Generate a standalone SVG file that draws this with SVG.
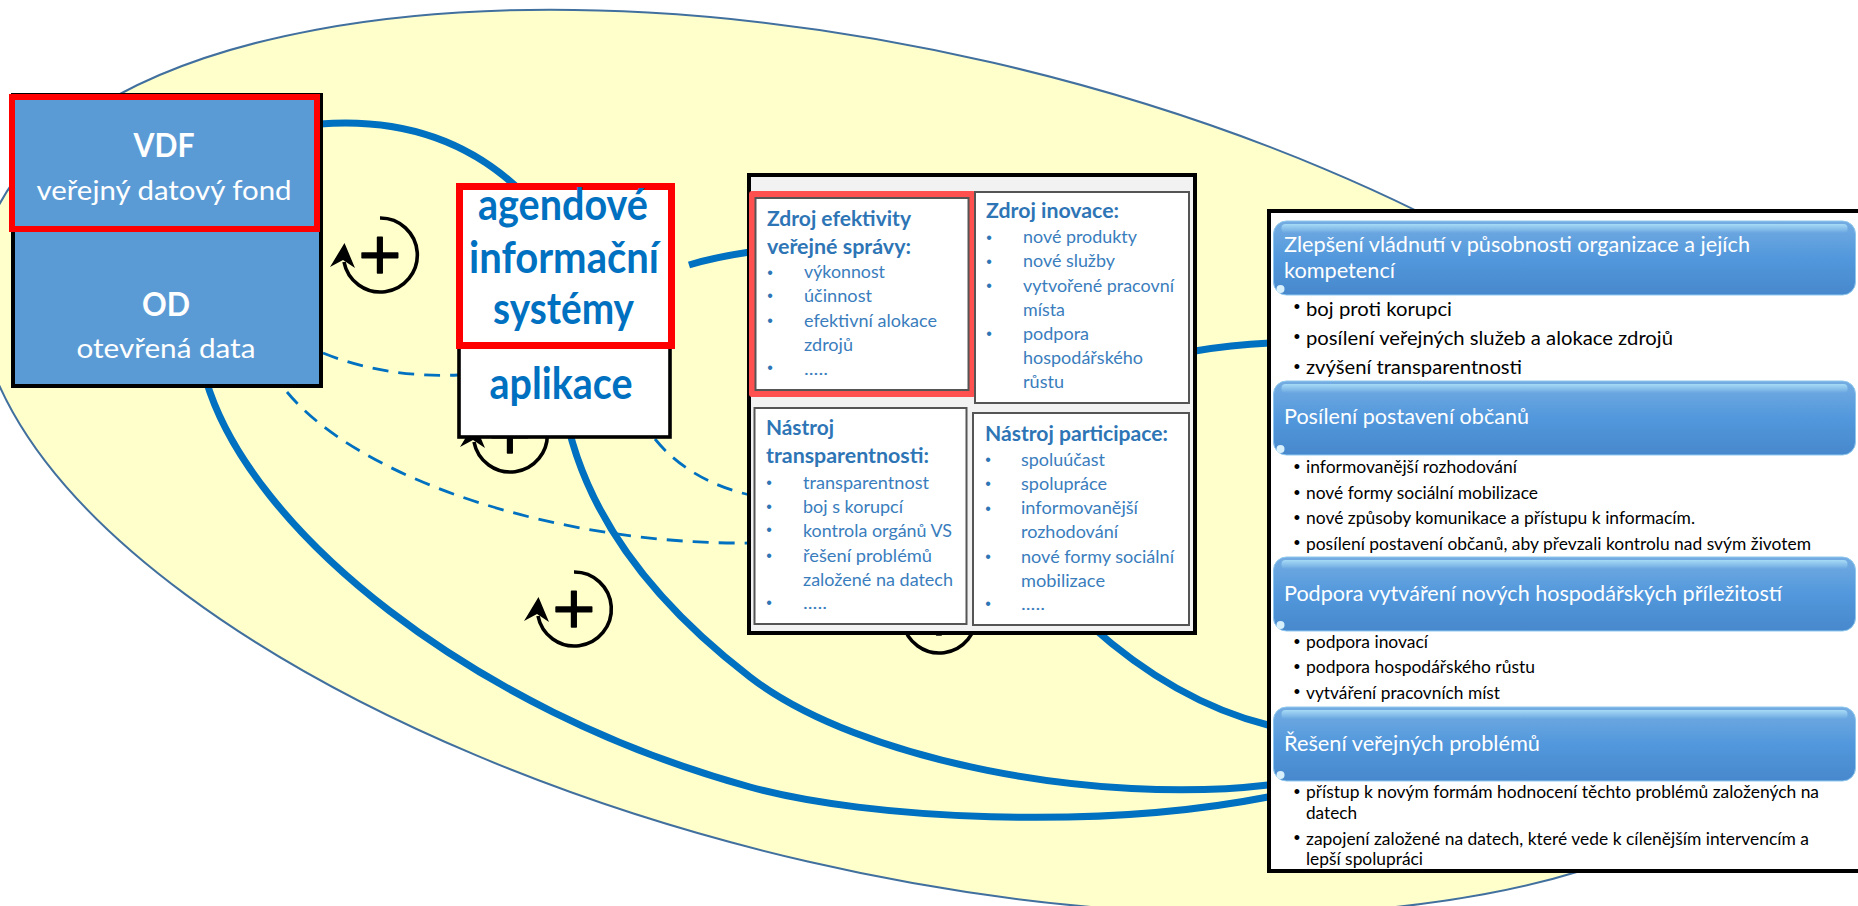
<svg xmlns="http://www.w3.org/2000/svg" xmlns:xlink="http://www.w3.org/1999/xlink" width="1858" height="906" viewBox="0 0 1858 906">
<style>
text{font-family:"Lato","Carlito","Liberation Sans",sans-serif}
.thick{fill:none;stroke:#0070C0;stroke-width:7}
.dash{fill:none;stroke:#0070C0;stroke-width:2.8;stroke-dasharray:16 10}
.lt{fill:#fff;text-anchor:middle}
.ais{fill:#0070C0;font-weight:700;font-size:43px;text-anchor:middle}
.card{fill:#fff;stroke:#555;stroke-width:2}
.h{fill:#2E75B6;font-weight:700;font-size:20.5px}
.i{fill:#3A7DBD;font-size:18px}
.b{fill:#2E75B6;font-family:"Liberation Sans",sans-serif;font-size:16px;text-anchor:middle}
.bt{fill:#fff;font-size:22px}
.k{fill:#000;font-size:19.5px}
.s{fill:#000;font-size:17.5px}
.kb{fill:#000;font-family:"Liberation Sans",sans-serif;font-size:18px;text-anchor:middle}
.plus{font-family:"DejaVu Sans",sans-serif;font-size:57px;text-anchor:middle;fill:#000;stroke:#000;stroke-width:1.5;stroke-linejoin:round}
</style>
<defs>
<linearGradient id="bar" x1="0" y1="0" x2="0" y2="1">
<stop offset="0" stop-color="#74ACE2"/><stop offset="0.5" stop-color="#5298DC"/><stop offset="1" stop-color="#4888CC"/>
</linearGradient>
<linearGradient id="gloss" x1="0" y1="0" x2="0" y2="1">
<stop offset="0" stop-color="#A6DAF6"/><stop offset="1" stop-color="#A6DAF6" stop-opacity="0"/>
</linearGradient>
<g id="loop">
<path d="M0,-37 A37,37 0 1 1 -36,7" fill="none" stroke="#000" stroke-width="3.6"/>
<polygon points="-35.5,-12 -50,12 -37,5 -25,13" fill="#000"/>
</g>
<g id="barshape">
<rect x="0" y="0" width="582" height="74" rx="13" fill="url(#bar)" stroke="#8FC8EE" stroke-width="1"/>
<rect x="8" y="3" width="566" height="9" rx="4" fill="url(#gloss)"/>
<circle cx="7" cy="68" r="4" fill="#D8F0FC"/>
</g>
</defs>

<ellipse id="background" cx="900" cy="462" rx="942" ry="410" transform="rotate(13 900 462)" fill="#FFFFCC" stroke="#41709F" stroke-width="2"/>

<g id="connectors">
<path class="thick" d="M320,124 C400,118 470,140 525,195"/>
<path class="thick" d="M689,265 Q715,257 750,252"/>
<path class="thick" d="M1195,351 Q1230,345 1270,343"/>
<path class="thick" d="M206,380 C250,530 470,710 750,787 C870,820 1100,830 1268,797"/>
<path class="thick" d="M563,400 C580,510 650,600 750,677 C860,762 1100,805 1268,785"/>
<path class="thick" d="M1090,625 C1140,670 1200,708 1268,725"/>
<path class="dash" d="M323,353 Q385,378 458,375"/>
<path class="dash" d="M287,392 C360,480 560,545 750,543"/>
<path class="dash" d="M655,439 C680,470 715,487 750,495"/>
</g>

<g id="loop-1"><use href="#loop" xlink:href="#loop" x="380" y="255"/><text class="plus" x="380" y="273">+</text></g>
<g id="loop-2"><use href="#loop" xlink:href="#loop" x="510" y="435"/><text class="plus" x="510" y="453">+</text></g>
<g id="loop-3"><use href="#loop" xlink:href="#loop" x="574" y="609"/><text class="plus" x="574" y="627">+</text></g>
<g id="loop-4"><use href="#loop" xlink:href="#loop" x="939" y="616"/><text class="plus" x="939" y="635">+</text></g>

<g id="node-od">
<rect x="13" y="95" width="308" height="291" fill="#5B9BD5" stroke="#000" stroke-width="4"/>
<text class="lt" x="166" y="316" font-size="33" font-weight="700" textLength="48" lengthAdjust="spacingAndGlyphs">OD</text>
<text class="lt" x="166" y="358" font-size="27" textLength="179" lengthAdjust="spacingAndGlyphs">otevřená data</text>
</g>
<g id="node-vdf">
<rect x="12" y="97" width="305" height="132" fill="#5B9BD5" stroke="#FF0000" stroke-width="6"/>
<text class="lt" x="164" y="157" font-size="33" font-weight="700" textLength="61" lengthAdjust="spacingAndGlyphs">VDF</text>
<text class="lt" x="164" y="200" font-size="27" textLength="255" lengthAdjust="spacingAndGlyphs">veřejný datový fond</text>
</g>

<g id="node-aplikace">
<rect x="459" y="300" width="211" height="137" fill="#fff" stroke="#000" stroke-width="3.6"/>
<text class="ais" x="561" y="399" textLength="143" lengthAdjust="spacingAndGlyphs">aplikace</text>
</g>
<g id="node-ais">
<rect x="459.5" y="186.5" width="212" height="159" fill="#fff" stroke="#FF0000" stroke-width="7"/>
<text class="ais" x="563" y="220" textLength="170" lengthAdjust="spacingAndGlyphs">agendové</text>
<text class="ais" x="564" y="273" textLength="190" lengthAdjust="spacingAndGlyphs">informační</text>
<text class="ais" x="563.5" y="324" textLength="141" lengthAdjust="spacingAndGlyphs">systémy</text>
</g>

<g id="node-matrix">
<rect x="749" y="175" width="446" height="458" fill="#F2F2F2" stroke="#000" stroke-width="4"/>
<rect x="749" y="191" width="227" height="206" rx="3" fill="#FF5050"/>
<rect class="card" x="755.5" y="198" width="213" height="192"/>
<rect class="card" x="975" y="192" width="214" height="211"/>
<rect class="card" x="754.5" y="408" width="212" height="216"/>
<rect class="card" x="973" y="413" width="216" height="212"/>

<text class="h" x="767" y="226" textLength="144" lengthAdjust="spacingAndGlyphs">Zdroj efektivity</text>
<text class="h" x="767" y="254" textLength="144" lengthAdjust="spacingAndGlyphs">veřejné správy:</text>
<text class="b" x="770" y="278">•</text><text class="i" x="804" y="278" textLength="81" lengthAdjust="spacingAndGlyphs">výkonnost</text>
<text class="b" x="770" y="301">•</text><text class="i" x="804" y="302" textLength="68" lengthAdjust="spacingAndGlyphs">účinnost</text>
<text class="b" x="770" y="326">•</text><text class="i" x="804" y="327" textLength="133" lengthAdjust="spacingAndGlyphs">efektivní alokace</text>
<text class="i" x="804" y="351" textLength="49" lengthAdjust="spacingAndGlyphs">zdrojů</text>
<text class="b" x="770" y="373">•</text><text class="i" x="804" y="375" textLength="24" lengthAdjust="spacingAndGlyphs">.....</text>

<text class="h" x="986" y="218" textLength="133" lengthAdjust="spacingAndGlyphs">Zdroj inovace:</text>
<text class="b" x="989" y="243">•</text><text class="i" x="1023" y="243" textLength="114" lengthAdjust="spacingAndGlyphs">nové produkty</text>
<text class="b" x="989" y="267">•</text><text class="i" x="1023" y="267" textLength="92" lengthAdjust="spacingAndGlyphs">nové služby</text>
<text class="b" x="989" y="291">•</text><text class="i" x="1023" y="292" textLength="151" lengthAdjust="spacingAndGlyphs">vytvořené pracovní</text>
<text class="i" x="1023" y="316" textLength="42" lengthAdjust="spacingAndGlyphs">místa</text>
<text class="b" x="989" y="339">•</text><text class="i" x="1023" y="340" textLength="66" lengthAdjust="spacingAndGlyphs">podpora</text>
<text class="i" x="1023" y="364" textLength="120" lengthAdjust="spacingAndGlyphs">hospodářského</text>
<text class="i" x="1023" y="388" textLength="41" lengthAdjust="spacingAndGlyphs">růstu</text>

<text class="h" x="766" y="435" textLength="68" lengthAdjust="spacingAndGlyphs">Nástroj</text>
<text class="h" x="766" y="463" textLength="163" lengthAdjust="spacingAndGlyphs">transparentnosti:</text>
<text class="b" x="769" y="488">•</text><text class="i" x="803" y="489" textLength="126" lengthAdjust="spacingAndGlyphs">transparentnost</text>
<text class="b" x="769" y="512">•</text><text class="i" x="803" y="513" textLength="100" lengthAdjust="spacingAndGlyphs">boj s korupcí</text>
<text class="b" x="769" y="535">•</text><text class="i" x="803" y="537" textLength="149" lengthAdjust="spacingAndGlyphs">kontrola orgánů VS</text>
<text class="b" x="769" y="561">•</text><text class="i" x="803" y="562" textLength="129" lengthAdjust="spacingAndGlyphs">řešení problémů</text>
<text class="i" x="803" y="586" textLength="150" lengthAdjust="spacingAndGlyphs">založené na datech</text>
<text class="b" x="769" y="608">•</text><text class="i" x="803" y="609" textLength="24" lengthAdjust="spacingAndGlyphs">.....</text>

<text class="h" x="985" y="441" textLength="183" lengthAdjust="spacingAndGlyphs">Nástroj participace:</text>
<text class="b" x="988" y="465">•</text><text class="i" x="1021" y="466" textLength="84" lengthAdjust="spacingAndGlyphs">spoluúčast</text>
<text class="b" x="988" y="489">•</text><text class="i" x="1021" y="490" textLength="86" lengthAdjust="spacingAndGlyphs">spolupráce</text>
<text class="b" x="988" y="514">•</text><text class="i" x="1021" y="514" textLength="117" lengthAdjust="spacingAndGlyphs">informovanější</text>
<text class="i" x="1021" y="538" textLength="97" lengthAdjust="spacingAndGlyphs">rozhodování</text>
<text class="b" x="988" y="562">•</text><text class="i" x="1021" y="563" textLength="153" lengthAdjust="spacingAndGlyphs">nové formy sociální</text>
<text class="i" x="1021" y="587" textLength="84" lengthAdjust="spacingAndGlyphs">mobilizace</text>
<text class="b" x="988" y="609">•</text><text class="i" x="1021" y="610" textLength="24" lengthAdjust="spacingAndGlyphs">.....</text>
</g>

<g id="node-impacts">
<rect x="1269" y="211" width="610" height="660" fill="#fff" stroke="#000" stroke-width="4"/>
<use href="#barshape" xlink:href="#barshape" x="1273.5" y="221"/>
<use href="#barshape" xlink:href="#barshape" x="1273.5" y="381"/>
<use href="#barshape" xlink:href="#barshape" x="1273.5" y="557"/>
<use href="#barshape" xlink:href="#barshape" x="1273.5" y="707"/>
<text class="bt" x="1284" y="252" textLength="466" lengthAdjust="spacingAndGlyphs">Zlepšení vládnutí v působnosti organizace a jejích</text>
<text class="bt" x="1284" y="278" textLength="111" lengthAdjust="spacingAndGlyphs">kompetencí</text>
<text class="kb" x="1297" y="313">•</text><text class="k" x="1306" y="316" textLength="146" lengthAdjust="spacingAndGlyphs">boj proti korupci</text>
<text class="kb" x="1297" y="343">•</text><text class="k" x="1306" y="345" textLength="367" lengthAdjust="spacingAndGlyphs">posílení veřejných služeb a alokace zdrojů</text>
<text class="kb" x="1297" y="373">•</text><text class="k" x="1306" y="374" textLength="216" lengthAdjust="spacingAndGlyphs">zvýšení transparentnosti</text>

<text class="bt" x="1284" y="424" textLength="245" lengthAdjust="spacingAndGlyphs">Posílení postavení občanů</text>
<text class="kb" x="1297" y="473">•</text><text class="s" x="1306" y="473" textLength="211" lengthAdjust="spacingAndGlyphs">informovanější rozhodování</text>
<text class="kb" x="1297" y="499">•</text><text class="s" x="1306" y="499" textLength="232" lengthAdjust="spacingAndGlyphs">nové formy sociální mobilizace</text>
<text class="kb" x="1297" y="524">•</text><text class="s" x="1306" y="524" textLength="389" lengthAdjust="spacingAndGlyphs">nové způsoby komunikace a přístupu k informacím.</text>
<text class="kb" x="1297" y="549">•</text><text class="s" x="1306" y="550" textLength="505" lengthAdjust="spacingAndGlyphs">posílení postavení občanů, aby převzali kontrolu nad svým životem</text>

<text class="bt" x="1284" y="601" textLength="498" lengthAdjust="spacingAndGlyphs">Podpora vytváření nových hospodářských příležitostí</text>
<text class="kb" x="1297" y="648">•</text><text class="s" x="1306" y="648" textLength="122" lengthAdjust="spacingAndGlyphs">podpora inovací</text>
<text class="kb" x="1297" y="673">•</text><text class="s" x="1306" y="673" textLength="229" lengthAdjust="spacingAndGlyphs">podpora hospodářského růstu</text>
<text class="kb" x="1297" y="698">•</text><text class="s" x="1306" y="699" textLength="194" lengthAdjust="spacingAndGlyphs">vytváření pracovních míst</text>

<text class="bt" x="1284" y="751" textLength="256" lengthAdjust="spacingAndGlyphs">Řešení veřejných problémů</text>
<text class="kb" x="1297" y="798">•</text><text class="s" x="1306" y="798" textLength="513" lengthAdjust="spacingAndGlyphs">přístup k novým formám hodnocení těchto problémů založených na</text>
<text class="s" x="1306" y="819" textLength="51" lengthAdjust="spacingAndGlyphs">datech</text>
<text class="kb" x="1297" y="844">•</text><text class="s" x="1306" y="845" textLength="503" lengthAdjust="spacingAndGlyphs">zapojení založené na datech, které vede k cílenějším intervencím a</text>
<text class="s" x="1306" y="865" textLength="117" lengthAdjust="spacingAndGlyphs">lepší spolupráci</text>
</g>
</svg>
